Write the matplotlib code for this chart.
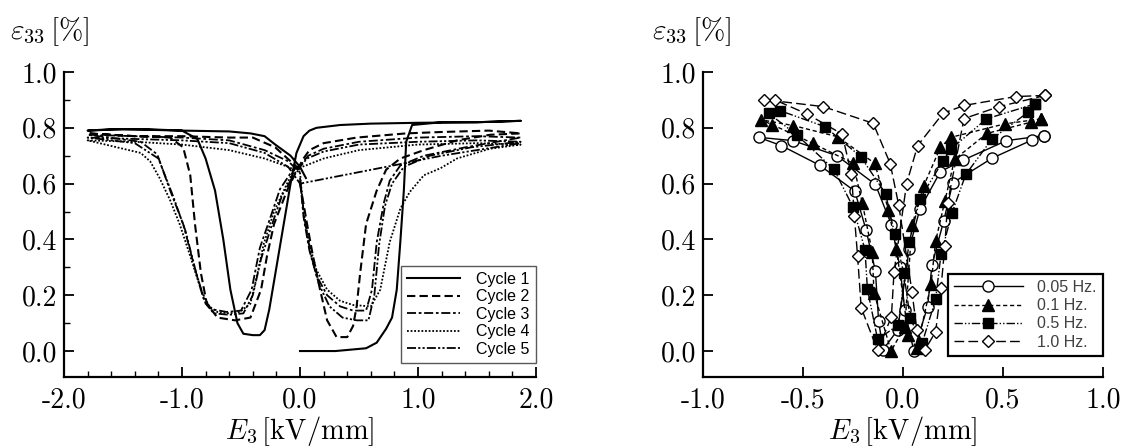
import matplotlib
matplotlib.use('Agg')
import matplotlib.pyplot as plt
from matplotlib.ticker import FixedLocator, FixedFormatter, MultipleLocator

plt.rcParams['mathtext.fontset'] = 'cm'
plt.rcParams['axes.unicode_minus'] = False

# ---- painel esquerdo: ciclos ----
ciclo1_x = [0.00, 0.30, 0.56, 0.65, 0.73, 0.78, 0.82, 0.85, 0.88, 0.90, 0.95, 1.20, 1.50, 1.87,
            1.50, 1.00, 0.60, 0.34, 0.14, 0.08, 0.03, -0.03, -0.08, -0.14, -0.20, -0.26, -0.30, -0.34,
            -0.40, -0.48, -0.53, -0.59, -0.65, -0.72, -0.80, -0.87, -1.00, -1.30, -1.60, -1.80,
            -1.50, -1.00, -0.60, -0.42, -0.30, -0.21, -0.08, 0.00, 0.05]
ciclo1_y = [0.00, 0.00, 0.01, 0.03, 0.08, 0.12, 0.22, 0.39, 0.575, 0.75, 0.81, 0.82, 0.82, 0.825,
            0.82, 0.818, 0.815, 0.81, 0.80, 0.79, 0.77, 0.71, 0.60, 0.45, 0.30, 0.15, 0.075, 0.057,
            0.057, 0.062, 0.10, 0.22, 0.40, 0.575, 0.69, 0.76, 0.79, 0.795, 0.795, 0.79,
            0.795, 0.79, 0.787, 0.78, 0.77, 0.74, 0.70, 0.66, 0.62]

ciclo2_x = [0.00, 0.06, 0.11, 0.17, 0.23, 0.31, 0.40, 0.45, 0.48, 0.51, 0.56, 0.65, 0.73, 0.85, 1.05, 1.33, 1.61, 1.87,
            1.60, 1.20, 0.90, 0.48, 0.20, 0.08, 0.03, -0.03, -0.11, -0.22, -0.28, -0.33, -0.42, -0.55, -0.70,
            -0.79, -0.84, -0.89, -0.93, -0.99, -1.10, -1.40, -1.80,
            -1.40, -1.00, -0.60, -0.40, -0.21, -0.08, 0.00]
ciclo2_y = [0.60, 0.455, 0.34, 0.22, 0.11, 0.05, 0.05, 0.09, 0.16, 0.28, 0.455, 0.575, 0.65, 0.69, 0.72, 0.755, 0.775, 0.78,
            0.79, 0.785, 0.78, 0.765, 0.745, 0.72, 0.69, 0.645, 0.575, 0.455, 0.34, 0.22, 0.12, 0.11, 0.12,
            0.17, 0.28, 0.455, 0.63, 0.73, 0.765, 0.77, 0.78,
            0.77, 0.77, 0.765, 0.765, 0.73, 0.68, 0.65]

ciclo3_x = [0.00, 0.03, 0.08, 0.14, 0.23, 0.34, 0.45, 0.56, 0.61, 0.65, 0.71, 0.76, 0.85, 1.05, 1.40, 1.87,
            1.50, 1.00, 0.50, 0.20, 0.07, 0.00, -0.06, -0.17, -0.25, -0.34, -0.41, -0.50, -0.62, -0.75,
            -0.82, -0.90, -0.99, -1.10, -1.21, -1.35, -1.80,
            -1.40, -1.00, -0.60, -0.30, -0.10, 0.00]
ciclo3_y = [0.62, 0.48, 0.36, 0.27, 0.20, 0.16, 0.145, 0.145, 0.22, 0.39, 0.53, 0.61, 0.665, 0.70, 0.73, 0.765,
            0.77, 0.765, 0.75, 0.725, 0.70, 0.665, 0.65, 0.58, 0.48, 0.37, 0.22, 0.145, 0.14, 0.15,
            0.19, 0.31, 0.455, 0.575, 0.705, 0.75, 0.775,
            0.77, 0.765, 0.755, 0.72, 0.68, 0.64]

ciclo4_x = [0.00, 0.03, 0.08, 0.14, 0.23, 0.34, 0.45, 0.60, 0.68, 0.76, 0.85, 0.93, 1.05, 1.19, 1.33, 1.61, 1.87,
            1.50, 1.00, 0.50, 0.20, 0.05, -0.05, -0.11, -0.22, -0.31, -0.37, -0.42, -0.51, -0.60, -0.70,
            -0.77, -0.84, -0.93, -1.02, -1.10, -1.19, -1.27, -1.35, -1.45, -1.60, -1.80,
            -1.40, -1.00, -0.60, -0.30, -0.10, 0.00]
ciclo4_y = [0.64, 0.50, 0.38, 0.29, 0.22, 0.18, 0.165, 0.16, 0.22, 0.39, 0.51, 0.57, 0.63, 0.655, 0.69, 0.725, 0.74,
            0.745, 0.74, 0.72, 0.69, 0.665, 0.65, 0.60, 0.50, 0.38, 0.26, 0.17, 0.14, 0.135, 0.14,
            0.16, 0.22, 0.34, 0.455, 0.54, 0.62, 0.68, 0.71, 0.72, 0.735, 0.755,
            0.75, 0.74, 0.72, 0.69, 0.66, 0.64]

ciclo5_x = [0.00, 0.04, 0.09, 0.16, 0.25, 0.36, 0.48, 0.58, 0.63, 0.67, 0.72, 0.78, 0.88, 1.10, 1.45, 1.87,
            1.50, 1.00, 0.50, 0.20, 0.06, -0.04, -0.15, -0.24, -0.33, -0.40, -0.48, -0.60, -0.73, -0.80,
            -0.88, -0.97, -1.08, -1.20, -1.40, -1.80,
            -1.40, -1.00, -0.60, -0.30, -0.10, 0.00, 0.85, 1.20, 1.87]
ciclo5_y = [0.61, 0.47, 0.35, 0.24, 0.16, 0.12, 0.11, 0.11, 0.20, 0.38, 0.52, 0.60, 0.66, 0.70, 0.73, 0.75,
            0.755, 0.75, 0.74, 0.715, 0.69, 0.64, 0.56, 0.45, 0.33, 0.20, 0.135, 0.13, 0.135, 0.17,
            0.28, 0.43, 0.56, 0.69, 0.745, 0.765,
            0.76, 0.755, 0.745, 0.71, 0.66, 0.60, 0.67, 0.70, 0.745]

# ---- painel direito: frequencias ----
f005_x = [0.704, 0.517, 0.300, 0.187, 0.085, 0.031, -0.027, -0.100, -0.122, -0.138, -0.185, -0.241, -0.417,
          -0.608, -0.722, -0.550, -0.330, -0.138, -0.058, -0.015, 0.009, 0.054, 0.123, 0.145, 0.203, 0.249,
          0.445, 0.644, 0.704]
f005_y = [0.772, 0.754, 0.684, 0.643, 0.510, 0.367, 0.075, 0.005, 0.108, 0.287, 0.435, 0.573, 0.666,
          0.736, 0.766, 0.754, 0.700, 0.597, 0.453, 0.300, 0.147, 0.000, 0.159, 0.309, 0.465, 0.603,
          0.691, 0.756, 0.772]

f01_x = [0.690, 0.508, 0.240, 0.187, 0.103, 0.045, 0.009, -0.060, -0.145, -0.154, -0.203, -0.250, -0.450,
         -0.653, -0.711, -0.548, -0.327, -0.142, -0.073, -0.033, 0.027, 0.070, 0.140, 0.163, 0.209, 0.258,
         0.420, 0.639, 0.690]
f01_y = [0.832, 0.814, 0.766, 0.730, 0.591, 0.451, 0.087, 0.000, 0.209, 0.355, 0.529, 0.673, 0.744,
         0.811, 0.829, 0.808, 0.768, 0.673, 0.507, 0.367, 0.056, 0.010, 0.239, 0.393, 0.537, 0.687,
         0.780, 0.820, 0.832]

f05_x = [0.662, 0.417, 0.240, 0.200, 0.085, 0.031, -0.024, -0.127, -0.178, -0.190, -0.250, -0.345, -0.530,
         -0.672, -0.617, -0.390, -0.212, -0.087, -0.042, 0.004, 0.036, 0.096, 0.163, 0.190, 0.245, 0.314,
         0.445, 0.626, 0.662]
f05_y = [0.886, 0.832, 0.724, 0.681, 0.546, 0.391, 0.093, 0.042, 0.222, 0.363, 0.516, 0.651, 0.774,
         0.852, 0.862, 0.804, 0.697, 0.564, 0.420, 0.279, 0.117, 0.029, 0.185, 0.347, 0.495, 0.633,
         0.760, 0.856, 0.886]

f10_x = [0.711, 0.563, 0.305, 0.200, 0.073, 0.018, -0.045, -0.058, -0.127, -0.209, -0.227, -0.243, -0.258,
         -0.305, -0.481, -0.641, -0.693, -0.399, -0.149, -0.064, -0.022, 0.045, 0.069, 0.110, 0.163, 0.190,
         0.209, 0.223, 0.305, 0.481, 0.711]
f10_y = [0.916, 0.912, 0.880, 0.852, 0.736, 0.600, 0.282, 0.123, 0.002, 0.155, 0.339, 0.483, 0.636,
         0.778, 0.850, 0.900, 0.901, 0.876, 0.816, 0.672, 0.525, 0.213, 0.075, 0.005, 0.069, 0.225,
         0.375, 0.531, 0.833, 0.876, 0.916]

ticks_esq = [-2.0, -1.0, 0.0, 1.0, 2.0]
rotulos_esq = ['-2.0', '-1.0', '0.0', '1.0', '2.0']
ticks_dir = [-1.0, -0.5, 0.0, 0.5, 1.0]
rotulos_dir = ['-1.0', '-0.5', '0.0', '0.5', '1.0']
ticks_y = [0.0, 0.2, 0.4, 0.6, 0.8, 1.0]
rotulos_y = ['0.0', '0.2', '0.4', '0.6', '0.8', '1.0']

W, H = 1123, 448
fig = plt.figure(figsize=(W / 100, H / 100), dpi=100)


def prepara_eixo(ax, xt, xl, xlim, menores):
    ax.set_xlim(xlim)
    ax.set_ylim(-0.093, 1.0)
    for lado in ['top', 'right']:
        ax.spines[lado].set_visible(False)
    for lado in ['left', 'bottom']:
        ax.spines[lado].set_linewidth(1.6)
    ax.xaxis.set_major_locator(FixedLocator(xt))
    ax.xaxis.set_major_formatter(FixedFormatter(xl))
    ax.yaxis.set_major_locator(FixedLocator(ticks_y))
    ax.yaxis.set_major_formatter(FixedFormatter(rotulos_y))
    if menores:
        ax.xaxis.set_minor_locator(MultipleLocator(0.2))
        ax.yaxis.set_minor_locator(MultipleLocator(0.1))
    ax.tick_params(which='major', direction='in', length=7, width=1.3, labelsize=20, pad=7)
    ax.tick_params(which='minor', direction='in', length=4, width=1.0)
    ax.tick_params(axis='y', pad=5)
    for t in ax.get_xticklabels() + ax.get_yticklabels():
        t.set_fontfamily('cmr10')
    # rotulo do eixo x logo abaixo dos numeros
    ax.text(0.5, -0.176, r'$E_3\,[\mathrm{kV/mm}]$', transform=ax.transAxes,
            ha='center', va='center', fontsize=20.5)


ax1 = fig.add_axes([64 / W, 1 - 377 / H, 472 / W, 305 / H])
prepara_eixo(ax1, ticks_esq, rotulos_esq, (-2.0, 2.0), True)
ax1.plot(ciclo1_x, ciclo1_y, color='k', lw=1.5, ls='-', label='Cycle 1')
ax1.plot(ciclo2_x, ciclo2_y, color='k', lw=1.5, ls=(0, (4, 2)), label='Cycle 2')
ax1.plot(ciclo3_x, ciclo3_y, color='k', lw=1.3, ls=(0, (5, 1.5, 1.5, 1.5)), label='Cycle 3')
ax1.plot(ciclo4_x, ciclo4_y, color='k', lw=1.3, ls=(0, (1, 1)), label='Cycle 4')
ax1.plot(ciclo5_x, ciclo5_y, color='k', lw=1.3, ls=(0, (5, 1.2, 1.2, 1.2, 1.2, 1.2)), label='Cycle 5')
leg1 = ax1.legend(loc='lower right', bbox_to_anchor=(1.0, 0.046), borderaxespad=0,
                  prop={'family': 'Liberation Sans', 'size': 11.5}, handlelength=3.3,
                  labelspacing=0.15, handletextpad=1.0, borderpad=0.4, fancybox=False,
                  framealpha=1)
leg1.get_frame().set_edgecolor('0.35')
leg1.get_frame().set_linewidth(1.0)

ax2 = fig.add_axes([703 / W, 1 - 377 / H, 400 / W, 305 / H])
prepara_eixo(ax2, ticks_dir, rotulos_dir, (-1.0, 1.0), False)
ms = 8
ax2.plot(f005_x, f005_y, color='k', lw=1.0, ls='-', marker='o', ms=ms, mfc='white', mec='k',
         mew=1.0, label='0.05 Hz.')
ax2.plot(f01_x, f01_y, color='k', lw=1.0, ls=(0, (3, 2)), marker='^', ms=ms, mfc='k', mec='k',
         label='0.1 Hz.')
ax2.plot(f05_x, f05_y, color='k', lw=1.0, ls=(0, (6, 1.5, 1, 1.5, 1, 1.5)), marker='s', ms=ms - 0.5,
         mfc='k', mec='k', label='0.5 Hz.')
ax2.plot(f10_x, f10_y, color='k', lw=1.0, ls=(0, (7, 3)), marker='D', ms=ms - 1.5, mfc='white', mec='k',
         mew=1.0, label='1.0 Hz.')
leg2 = ax2.legend(loc='lower right', bbox_to_anchor=(1.0, 0.069), borderaxespad=0,
                  prop={'family': 'Liberation Sans', 'size': 11.5}, handlelength=4.3,
                  labelspacing=0.2, handletextpad=0.9, borderpad=0.4, fancybox=False,
                  framealpha=1)
leg2.get_frame().set_edgecolor('k')
leg2.get_frame().set_linewidth(1.6)
for t in leg2.get_texts():
    t.set_color('0.25')

fig.text(10 / W, 1 - 32 / H, r'$\varepsilon_{33}\,[\%]$', ha='left', va='center', fontsize=21)
fig.text(652 / W, 1 - 32 / H, r'$\varepsilon_{33}\,[\%]$', ha='left', va='center', fontsize=21)

plt.savefig('out.png', dpi=100)
